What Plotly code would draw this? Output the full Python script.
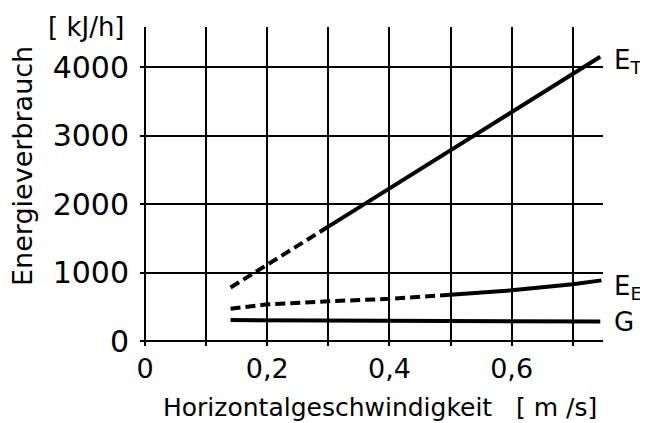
import plotly.graph_objects as go

# ---- data ----
speed_ET = [0.14, 0.30, 0.745]
energy_ET = [780, 1670, 4150]
ET_dash_end = 1  # index where dashed part ends

speed_EE = [0.14, 0.2, 0.3, 0.4, 0.5, 0.6, 0.7, 0.747]
energy_EE = [470, 535, 580, 615, 675, 740, 830, 885]
EE_dash_end = 4

speed_G = [0.14, 0.745]
energy_G = [305, 285]

x_tickvals = [0, 0.2, 0.4, 0.6]
x_ticktext = ["0", "0,2", "0,4", "0,6"]
x_minor_vals = [0.1, 0.3, 0.5, 0.7]
y_tickvals = [0, 1000, 2000, 3000, 4000]
y_ticktext = ["0", "1000", "2000", "3000", "4000"]

series_labels = ["E<sub>T</sub>", "E<sub>E</sub>", "G"]
label_px_y = [61, 287, 322]

FONT = "DejaVu Sans"
LW = 4
DASH = "10px,5px"

OFF = 8  # default page margin of the browser
W, H = 648 - OFF, 423 - OFF
ML, MR, MT, MB = 140 - OFF, 45, 27 - OFF, 77
PW, PH = W - ML - MR, H - MT - MB


def px(xr, yr):
    """reference-image pixel -> paper coords"""
    return (xr - OFF - ML) / PW, (H - MB - (yr - OFF)) / PH


fig = go.Figure()


def add_series(xs, ys, split):
    parts = [(xs[:split + 1], ys[:split + 1], DASH), (xs[split:], ys[split:], "solid")] \
        if split is not None else [(xs, ys, "solid")]
    for px_, py_, d in parts:
        fig.add_trace(go.Scatter(x=px_, y=py_, mode="lines",
                                 line=dict(color="black", width=LW, dash=d),
                                 cliponaxis=False, showlegend=False, hoverinfo="skip"))


add_series(speed_ET, energy_ET, ET_dash_end)
add_series(speed_EE, energy_EE, EE_dash_end)
add_series(speed_G, energy_G, None)

for lab, yv in zip(series_labels, label_px_y):
    ax, ay = px(612, yv)
    fig.add_annotation(x=ax, y=ay, xref="paper", yref="paper", text=lab, showarrow=False,
                       xanchor="left", yanchor="middle",
                       font=dict(family=FONT, size=26, color="black"))

ax, ay = px(86, 27)
fig.add_annotation(x=ax, y=ay, xref="paper", yref="paper", text="[ kJ/h]", showarrow=False,
                   xanchor="center", yanchor="middle",
                   font=dict(family=FONT, size=26, color="black"))

ax, ay = px(380, 407)
fig.add_annotation(x=ax, y=ay, xref="paper", yref="paper",
                   text="Horizontalgeschwindigkeit   [ m /s]", showarrow=False,
                   xanchor="center", yanchor="middle",
                   font=dict(family=FONT, size=25, color="black"))

ax, ay = px(22, 166)
fig.add_annotation(x=ax, y=ay, xref="paper", yref="paper",
                   text="Energieverbrauch", showarrow=False, textangle=-90,
                   xanchor="center", yanchor="middle",
                   font=dict(family=FONT, size=27, color="black"))

grid = dict(showgrid=True, gridcolor="black", gridwidth=2)

fig.update_layout(
    width=W, height=H,
    margin=dict(l=ML, r=MR, t=MT, b=MB),
    paper_bgcolor="white", plot_bgcolor="white",
    font=dict(family=FONT, color="black"),
    xaxis=dict(range=[-0.0082, 0.7495], tickvals=x_tickvals, ticktext=x_ticktext,
               zeroline=False, showline=False, ticks="", automargin=False,
               ticklabelstandoff=4,
               minor=dict(tickvals=x_minor_vals, ticks="", **grid),
               tickfont=dict(family=FONT, size=27), **grid),
    yaxis=dict(range=[-73, 4584], tickvals=y_tickvals, ticktext=y_ticktext,
               zeroline=False, showline=False, ticks="", automargin=False,
               ticklabelstandoff=10,
               tickfont=dict(family=FONT, size=30), **grid),
)

fig.write_html("out.html")
